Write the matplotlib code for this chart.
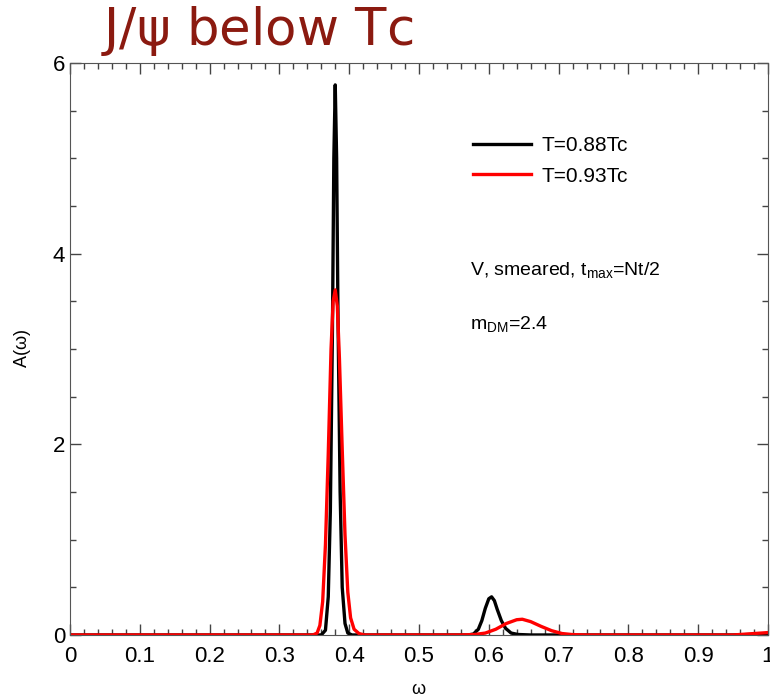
import matplotlib
matplotlib.use('Agg')
import matplotlib.pyplot as plt
from matplotlib.ticker import MultipleLocator

plt.rcParams['font.family'] = ['Liberation Sans', 'DejaVu Sans']
plt.rcParams['mathtext.default'] = 'regular'

# spectral functions
omega_088 = [0.0, 0.360, 0.366, 0.370, 0.373, 0.376, 0.378, 0.380, 0.382, 0.384, 0.387,
             0.390, 0.394, 0.398, 0.404, 0.570, 0.578, 0.585, 0.590, 0.595, 0.600,
             0.604, 0.608, 0.612, 0.618, 0.624, 0.632, 0.642, 0.660, 0.95, 1.0]
A_088 = [0.0, 0.0, 0.05, 0.4, 1.3, 3.2, 5.0, 5.77, 5.0, 3.3, 1.5,
         0.5, 0.12, 0.02, 0.0, 0.0, 0.01, 0.06, 0.15, 0.28, 0.38,
         0.40, 0.36, 0.27, 0.15, 0.07, 0.02, 0.005, 0.0, 0.0, 0.01]

omega_093 = [0.0, 0.348, 0.354, 0.358, 0.362, 0.366, 0.370, 0.374, 0.377, 0.380, 0.383,
             0.386, 0.390, 0.394, 0.398, 0.402, 0.407, 0.414, 0.422, 0.560, 0.580,
             0.595, 0.610, 0.625, 0.640, 0.648, 0.660, 0.675, 0.690, 0.705, 0.720,
             0.740, 0.950, 0.970, 1.0]
A_093 = [0.0, 0.0, 0.02, 0.1, 0.35, 0.95, 1.9, 3.0, 3.5, 3.62, 3.45,
         2.9, 1.95, 1.05, 0.45, 0.18, 0.06, 0.015, 0.0, 0.0, 0.005,
         0.02, 0.06, 0.12, 0.16, 0.165, 0.14, 0.09, 0.045, 0.015, 0.004,
         0.0, 0.0, 0.01, 0.025]

labels = ['T=0.88Tc', 'T=0.93Tc']

fig = plt.figure(figsize=(7.7, 6.99), dpi=100)
ax = fig.add_axes([0.0909, 0.0916, 0.9065, 0.8183])

ax.plot(omega_088, A_088, color='black', linewidth=2.4, label=labels[0])
ax.plot(omega_093, A_093, color='red', linewidth=2.4, label=labels[1])

ax.set_xlim(0, 1)
ax.set_ylim(0, 6)
ax.set_xticks([i / 10 for i in range(11)])
ax.set_xticklabels(['0', '0.1', '0.2', '0.3', '0.4', '0.5', '0.6', '0.7', '0.8', '0.9', '1'])
ax.xaxis.set_minor_locator(MultipleLocator(0.02))
ax.yaxis.set_major_locator(MultipleLocator(2))
ax.yaxis.set_minor_locator(MultipleLocator(0.5))
ax.tick_params(which='both', direction='in', top=True, right=True, labelsize=16, color='#444444')
ax.tick_params(which='major', length=8, width=1)
ax.tick_params(which='minor', length=4, width=1)
ax.tick_params(axis='x', pad=8)
for s in ax.spines.values():
    s.set_color('#555555')

ax.set_xlabel(r'$\omega$', fontsize=13, labelpad=10)
ax.set_ylabel(r'A($\omega$)', fontsize=13, labelpad=14)

ax.legend(loc='upper left', bbox_to_anchor=(0.55, 0.905), frameon=False,
          fontsize=15, handlelength=2.8, handletextpad=0.5, labelspacing=0.55)

ax.text(0.573, 0.63, r'V, smeared, t$_{max}$=Nt/2', transform=ax.transAxes, fontsize=14)
ax.text(0.573, 0.535, r'm$_{DM}$=2.4', transform=ax.transAxes, fontsize=14)

fig.text(0.334, 0.955, r'J/$\psi$ below Tc', color='#8B1A10', fontsize=37,
         ha='center', va='center', family=['DejaVu Sans'])

fig.savefig('out.png', dpi=100)
